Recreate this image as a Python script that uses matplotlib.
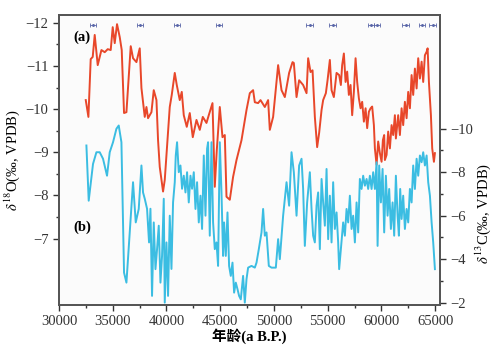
import matplotlib
matplotlib.use("Agg")
import matplotlib.pyplot as plt
from matplotlib.ticker import FixedLocator, NullFormatter

plt.rcParams['font.family'] = ['Liberation Serif', 'Noto Sans CJK SC', 'DejaVu Sans']
plt.rcParams['mathtext.fontset'] = 'stix'

# δ18O record (left axis)
o_age = [32490, 32737, 32951, 33137, 33324, 33603, 33947, 34255, 34534, 34813, 34999, 35186, 35400, 35651,
         35837, 36052, 36275, 36675, 36889, 37206, 37513, 37671, 37979, 38137, 38286, 38602, 38817, 39068,
         39217, 39375, 39515, 39682, 39841, 40027, 40306, 40492, 40772, 40958, 41237, 41423, 41610, 41889,
         42168, 42448, 42792, 43099, 43379, 43723, 43937, 44282, 44496, 44682, 44961, 45213, 45427, 45585,
         45892, 46199, 46516, 46981, 47447, 47754, 48061, 48220, 48527, 48750, 49151, 49458, 49616, 49923,
         50389, 50705, 51013, 51413, 51730, 51851, 52102, 52344, 52716, 53033, 53182, 53405, 53592, 53806,
         54020, 54206, 54430, 54578, 54830, 54988, 55202, 55360, 55574, 55826, 56068, 56226, 56347, 56506,
         56664, 56813, 56971, 57129, 57278, 57437, 57595, 57744, 57902, 58060, 58209, 58368, 58526, 58675,
         58833, 58991, 59140, 59299, 59392, 59550, 59699, 59857, 60015, 60136, 60257, 60322, 60480, 60629,
         60788, 60946, 61095, 61253, 61346, 61560, 61719, 61877, 62026, 62184, 62342, 62492, 62650, 62808,
         62957, 63115, 63274, 63423, 63581, 63739, 63888, 64046, 64205, 64298, 64419, 64605, 64726, 64884,
         64977]
o_val = [-10.21, -9.82, -11.16, -11.21, -11.72, -11.02, -11.37, -11.32, -11.39, -11.37, -11.90, -11.53, -11.97,
         -11.67, -11.37, -9.91, -9.93, -11.46, -11.18, -11.09, -11.41, -10.49, -9.82, -10.05, -9.79, -9.93,
         -10.44, -10.21, -9.28, -8.66, -8.40, -8.09, -8.36, -9.05, -10.05, -10.33, -10.84, -10.56, -10.21,
         -10.40, -9.86, -9.59, -9.91, -9.35, -9.75, -9.52, -9.82, -9.68, -9.86, -10.14, -8.20, -9.05, -10.05,
         -9.35, -9.40, -7.97, -7.90, -8.43, -8.82, -9.28, -9.98, -10.37, -10.44, -10.16, -10.14, -10.21,
         -10.05, -10.21, -9.52, -9.82, -11.02, -10.44, -10.28, -10.84, -11.09, -11.07, -10.28, -10.67, -10.56,
         -10.37, -11.18, -10.86, -10.90, -9.82, -9.12, -9.45, -9.98, -10.21, -10.37, -10.67, -11.14, -10.44,
         -10.28, -10.84, -10.79, -10.56, -11.02, -11.29, -10.63, -10.87, -10.33, -10.56, -9.86, -10.40, -11.18,
         -10.63, -10.25, -10.02, -10.17, -9.71, -10.02, -9.56, -9.94, -10.02, -10.06, -9.63, -9.09, -8.71,
         -9.25, -8.98, -8.78, -9.28, -9.40, -8.82, -8.94, -9.48, -9.09, -9.63, -9.40, -9.86, -9.32, -9.86,
         -9.40, -10.02, -9.63, -10.17, -9.79, -10.40, -10.02, -10.79, -10.33, -10.94, -10.48, -11.18, -10.71,
         -11.10, -10.63, -11.25, -11.33, -11.41, -10.63, -9.86, -9.09, -8.78, -8.98]

# δ13C record (right axis)
c_age = [32551, 32765, 33165, 33482, 33789, 34096, 34469, 34720, 35027, 35344, 35558, 35809, 35958, 36052,
         36275, 36582, 36889, 37141, 37420, 37671, 37820, 37979, 38193, 38379, 38509, 38658, 38817, 38975,
         39124, 39282, 39440, 39589, 39748, 39841, 39999, 40148, 40306, 40464, 40613, 40772, 40865, 40986,
         41144, 41302, 41451, 41610, 41768, 41917, 42075, 42233, 42382, 42541, 42699, 42848, 43006, 43164,
         43313, 43472, 43630, 43779, 43872, 44030, 44189, 44338, 44496, 44654, 44803, 44961, 45119, 45268,
         45361, 45520, 45678, 45827, 45985, 46143, 46293, 46451, 46609, 46758, 46916, 47130, 47289, 47447,
         47596, 47912, 48220, 48378, 48592, 48843, 48992, 49151, 49309, 49523, 49774, 50175, 50389, 50547,
         50854, 51171, 51413, 51636, 51851, 52102, 52344, 52567, 52716, 52874, 53089, 53340, 53498, 53647,
         53806, 53964, 54113, 54271, 54430, 54578, 54737, 54895, 55044, 55202, 55360, 55509, 55667, 55826,
         55975, 56068, 56226, 56440, 56599, 56757, 56906, 57064, 57222, 57371, 57530, 57688, 57837, 57995,
         58153, 58302, 58461, 58619, 58768, 58926, 59084, 59233, 59392, 59550, 59643, 59792, 59950, 60108,
         60257, 60415, 60573, 60722, 60881, 61039, 61188, 61346, 61504, 61626, 61747, 61877, 62026, 62184,
         62342, 62492, 62650, 62808, 62957, 63115, 63274, 63423, 63581, 63739, 63888, 64046, 64205, 64354,
         64512, 64670, 64819, 64977]
c_val = [-9.23, -6.69, -8.38, -8.92, -8.92, -8.62, -7.84, -8.92, -9.38, -10.00, -10.15, -9.38, -5.69, -3.38,
         -2.92, -5.23, -7.54, -5.69, -6.31, -8.31, -7.07, -6.78, -6.32, -4.77, -6.32, -2.31, -5.69, -3.54,
         -4.46, -5.54, -2.92, -4.15, -6.78, -2.00, -4.77, -2.31, -6.00, -3.55, -6.61, -7.54, -8.77, -9.38,
         -8.00, -8.31, -7.24, -7.84, -7.07, -8.00, -6.61, -7.84, -7.24, -8.00, -6.31, -7.54, -5.69, -6.92,
         -5.39, -8.77, -6.00, -9.08, -9.38, -5.08, -9.38, -5.69, -4.46, -4.77, -3.69, -9.38, -7.07, -4.15,
         -5.69, -4.15, -6.15, -3.69, -3.23, -3.84, -2.46, -2.92, -2.62, -2.31, -2.15, -3.23, -2.00, -3.08,
         -3.61, -3.69, -3.61, -3.84, -4.46, -5.23, -6.31, -5.08, -5.23, -3.69, -3.61, -3.61, -4.92, -4.00,
         -6.00, -7.54, -6.46, -8.92, -8.00, -6.00, -8.31, -8.62, -7.23, -4.61, -6.61, -8.00, -6.31, -5.08,
         -4.77, -6.46, -7.07, -4.46, -7.69, -6.61, -5.54, -8.15, -4.92, -6.92, -4.77, -7.54, -5.39, -6.15,
         -4.77, -3.54, -4.46, -5.69, -5.08, -6.31, -5.69, -6.92, -5.39, -6.00, -4.77, -6.61, -5.23, -7.69,
         -7.23, -7.84, -7.38, -7.69, -7.23, -7.84, -7.23, -8.00, -7.23, -8.46, -4.61, -8.31, -6.61, -8.15,
         -5.23, -7.84, -6.00, -7.23, -5.39, -6.61, -5.08, -7.84, -6.00, -5.08, -7.23, -5.85, -6.92, -5.39,
         -6.31, -5.69, -7.23, -6.61, -8.31, -7.23, -8.62, -7.84, -8.77, -8.46, -8.92, -8.31, -8.77, -7.54,
         -6.92, -5.69, -4.77, -3.54]

# U-Th dating points
date_age = [33166, 37579, 41024, 44898, 53315, 55456, 59022, 59609, 62253, 63771, 64767]
date_err = [280, 280, 280, 280, 300, 300, 300, 300, 300, 300, 300]
date_y = [-11.95] * len(date_age)

x_ticks = [30000, 35000, 40000, 45000, 50000, 55000, 60000, 65000]
o_ticks = [-12, -11, -10, -9, -8, -7]
c_ticks = [-10, -8, -6, -4, -2]

red = '#e8472a'
blue = '#3bbde2'
spine_c = '#555555'

fig = plt.figure(figsize=(4.92, 3.51), dpi=100)
ax = fig.add_axes([0.1199, 0.131, 0.7744, 0.826])
ax.set_facecolor('#fbfbfb')
ax.plot(o_age, o_val, color=red, lw=1.4, zorder=3)
ax.errorbar(date_age, date_y, xerr=date_err, fmt='o', ms=1.1, color='#5a66a8',
            ecolor='#5a66a8', elinewidth=0.6, capsize=1.3, capthick=0.6, zorder=4)
ax.set_xlim(30000, 65450)
ax.set_ylim(-5.46, -12.18)
ax.set_xticks(x_ticks)
ax.xaxis.set_minor_locator(FixedLocator([32500, 37500, 42500, 47500, 52500, 57500, 62500]))
ax.set_yticks(o_ticks)
ax.set_yticklabels(['\u221212', '\u221211', '\u221210', '\u22129', '\u22128', '\u22127'])
ax.yaxis.set_minor_locator(FixedLocator([-11.5, -10.5, -9.5, -8.5, -7.5]))
ax.tick_params(axis='both', which='major', direction='out', length=4, width=1, colors='#333333', labelsize=10.5)
ax.tick_params(axis='both', which='minor', direction='out', length=2.5, width=1, colors='#333333')
ax.set_ylabel(r'$\delta^{18}$O(‰, VPDB)', fontsize=10.5, labelpad=3)

ax2 = ax.twinx()
ax2.plot(c_age, c_val, color=blue, lw=1.4, zorder=3)
ax2.set_ylim(-1.89, -15.23)
ax2.set_yticks(c_ticks)
ax2.set_yticklabels(['\u221210', '\u22128', '\u22126', '\u22124', '\u22122'])
ax2.yaxis.set_minor_locator(FixedLocator([-9, -7, -5, -3]))
ax2.tick_params(axis='y', which='major', direction='out', length=4, width=1, colors='#333333', labelsize=10.5)
ax2.tick_params(axis='y', which='minor', direction='out', length=2.5, width=1, colors='#333333')
ax2.set_ylabel(r'$\delta^{13}$C(‰, VPDB)', fontsize=10.5)
ax2.yaxis.set_label_coords(1.088, 0.317)

for a in (ax, ax2):
    for s in a.spines.values():
        s.set_color(spine_c)
        s.set_linewidth(1.3)

ax.text(0.037, 0.91, '(a)', transform=ax.transAxes, fontsize=10.5, fontweight='bold')
ax.text(0.037, 0.255, '(b)', transform=ax.transAxes, fontsize=10.5, fontweight='bold')
ax.set_xlabel('年龄(a B.P.)', fontsize=10.5, fontweight='bold', labelpad=0)

fig.savefig('out.png', dpi=100)
